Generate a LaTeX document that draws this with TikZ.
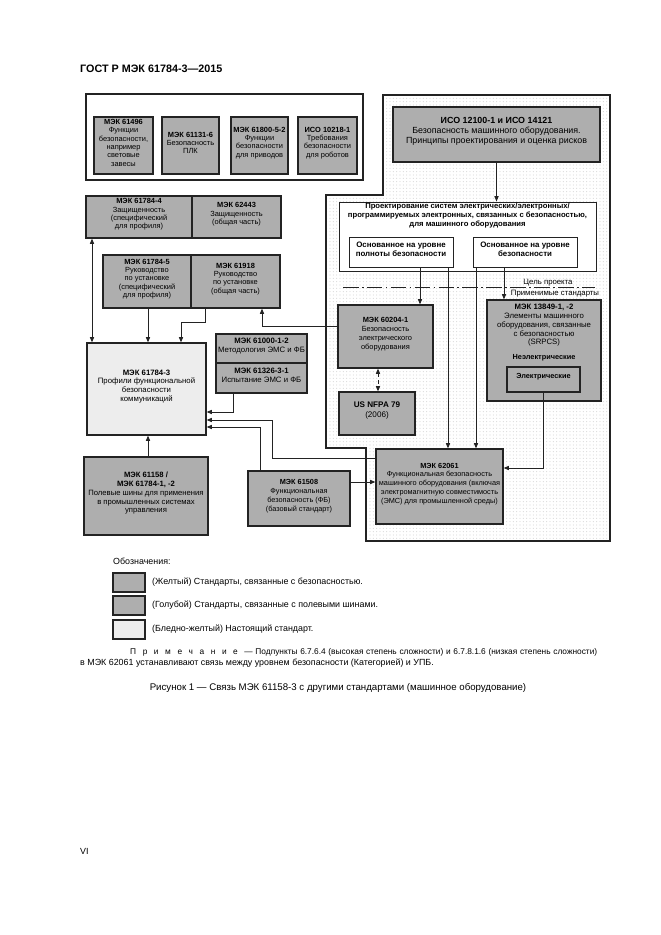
\documentclass[tikz,border=0pt]{standalone}
\usepackage{fontspec}
\setmainfont{Liberation Sans}
\usetikzlibrary{arrows.meta,fit,patterns}
\definecolor{boxgray}{RGB}{174,174,174}
\definecolor{lightfill}{RGB}{237,237,237}
\definecolor{linecol}{RGB}{35,35,35}
\newcommand\gapx{\hspace{4pt plus 6pt}}
\begin{document}
\begin{tikzpicture}[x=0.9pt,y=-0.9pt,
  gbox/.style={draw=linecol, line width=1.1pt, fill=boxgray, inner sep=0pt, align=center, font=\fontsize{6.7}{7.5}\selectfont},
  lbox/.style={gbox, fill=lightfill},
  wbox/.style={draw=linecol, line width=0.9pt, fill=white, inner sep=0pt, align=center, font=\bfseries\fontsize{7.1}{8.4}\selectfont},
  frame/.style={draw=linecol, line width=1.1pt, inner sep=0pt},
  txt/.style={inner sep=0pt, font=\fontsize{8}{9.5}\selectfont},
  arr/.style={draw=linecol, line width=0.8pt, -{Triangle[length=4.8pt,width=3.8pt]}},
  darr/.style={draw=linecol, line width=0.8pt, {Triangle[length=4.8pt,width=3.8pt]}-{Triangle[length=4.8pt,width=3.8pt]}},
  dashdotline/.style={draw=linecol, line width=0.8pt, dash pattern=on 14pt off 3pt on 1.5pt off 3pt}
]
\fill[white] (0,0) rectangle (661,935);
\useasboundingbox (0,0) rectangle (661,935);

% header
\node[anchor=base west, inner sep=0pt, font=\bfseries\fontsize{9.7}{11}\selectfont] (hdr) at (80,72) {ГОСТ Р МЭК 61784-3—2015};

% dotted region
\path[draw=linecol, line width=1.1pt, pattern=dots, pattern color=black!17]
  (383,95) -- (610,95) -- (610,541) -- (366,541) -- (366,448) -- (326,448) -- (326,195) -- (383,195) -- cycle;

% top-left frame with four boxes
\node[frame, fit={(86,94)(363,180)}] (tlf) {};
\node[gbox, fit={(94,117)(153,174)}] (b1) {\textbf{МЭК 61496}\\Функции\\безопасности,\\например\\световые\\завесы};
\node[gbox, fit={(162,117)(219,174)}] (b2) {\textbf{МЭК 61131-6}\\Безопасность\\ПЛК};
\node[gbox, fit={(231,117)(288,174)}] (b3) {\textbf{МЭК 61800-5-2}\\Функции\\безопасности\\для приводов};
\node[gbox, fit={(298,117)(357,174)}] (b4) {\textbf{ИСО 10218-1}\\Требования\\безопасности\\для роботов};

% ISO box
\node[gbox, font=\fontsize{8}{9}\selectfont, fit={(393,107)(600,162)}] (iso) {\textbf{ИСО 12100-1 и ИСО 14121}\\Безопасность машинного оборудования.\\Принципы проектирования и оценка рисков};

% design box
\node[wbox, fit={(339,202)(596,271)}] (design) {};
\node[inner sep=0pt, align=center, font=\bfseries\fontsize{6.9}{7.7}\selectfont] (dtitle) at (467.5,215.5) {Проектирование систем электрических/электронных/\\программируемых электронных, связанных с безопасностью,\\для машинного оборудования};
\node[wbox, fit={(349,237)(453,267)}] (s1) {Основанное на уровне\\полноты безопасности};
\node[wbox, fit={(473,237)(577,267)}] (s2) {Основанное на уровне\\безопасности};

% dash-dot boundary
\coordinate (dl) at (343,287);
\coordinate (dr) at (595,287);
\draw[dashdotline] (dl) -- (dr);
\node[inner sep=0pt, font=\fontsize{7}{8}\selectfont] (goal) at (548,282.5) {Цель проекта};
\node[inner sep=0pt, font=\fontsize{7}{8}\selectfont] (appl) at (555,293.5) {Применимые стандарты};

% left column
\node[gbox, fit={(86,196)(192,238)}] (d1) {\textbf{МЭК 61784-4}\\Защищенность\\(специфический\\для профиля)};
\node[gbox, fit={(192,196)(281,238)}] (d2) {\textbf{МЭК 62443}\\Защищенность\\(общая часть)};
\node[gbox, fit={(103,255)(191,308)}] (e1) {\textbf{МЭК 61784-5}\\Руководство\\по установке\\(специфический\\для профиля)};
\node[gbox, fit={(191,255)(280,308)}] (e2) {\textbf{МЭК 61918}\\Руководство\\по установке\\(общая часть)};

\node[lbox, font=\fontsize{7}{7.8}\selectfont, fit={(87,343)(206,435)}] (m) {\textbf{МЭК 61784-3}\\Профили функциональной\\безопасности\\коммуникаций};
\node[gbox, font=\fontsize{7}{8}\selectfont, fit={(216,334)(307,363)}] (f1) {\textbf{МЭК 61000-1-2}\\Методология ЭМС и ФБ};
\node[gbox, font=\fontsize{7}{8}\selectfont, fit={(216,363)(307,393)}] (f2) {\textbf{МЭК 61326-3-1}\\Испытание ЭМС и ФБ};

\node[gbox, font=\fontsize{6.9}{8}\selectfont, fit={(84,457)(208,535)}] (g) {\textbf{МЭК 61158 /}\\\textbf{МЭК 61784-1, -2}\\Полевые шины для применения\\в промышленных системах\\управления};
\node[gbox, font=\fontsize{6.6}{8}\selectfont, fit={(248,471)(350,526)}] (h) {\textbf{МЭК 61508}\\Функциональная\\безопасность (ФБ)\\(базовый стандарт)};

% right region boxes
\node[gbox, font=\fontsize{6.7}{8}\selectfont, fit={(338,305)(433,368)}] (p) {\textbf{МЭК 60204-1}\\Безопасность\\электрического\\оборудования};
\node[gbox, font=\fontsize{7.3}{9}\selectfont, fit={(339,392)(415,435)}] (q) {\textbf{US NFPA 79}\\(2006)};
\node[gbox, fit={(487,300)(601,401)}] (r) {};
\node[inner sep=0pt, align=center, font=\fontsize{7}{7.9}\selectfont] (rtitle) at (544,325.5) {\textbf{МЭК 13849-1, -2}\\Элементы машинного\\оборудования, связанные\\с безопасностью\\(SRPCS)};
\node[inner sep=0pt, font=\bfseries\fontsize{6.6}{7.6}\selectfont] (rnon) at (544,358) {Неэлектрические};
\node[gbox, font=\bfseries\fontsize{6.6}{7.6}\selectfont, fit={(507,367)(580,392)}] (r2) {Электрические};
\node[gbox, font=\fontsize{6.6}{7.9}\selectfont, fit={(376,449)(503,524)}] (t) {\textbf{МЭК 62061}\\Функциональная безопасность\\машинного оборудования (включая\\электромагнитную совместимость\\(ЭМС) для промышленной среды)};

% helper coordinates for connector routes
\coordinate (xa) at (420,0);
\coordinate (xb) at (448,0);
\coordinate (xc) at (476,0);
\coordinate (xd) at (504,0);
\coordinate (xf) at (378,0);
\coordinate (xi) at (92,0);
\coordinate (xj) at (148,0);
\coordinate (ye) at (0,468);
\coordinate (yp) at (0,326);
\coordinate (xpe) at (262,0);
\coordinate (k1) at (205,322);
\coordinate (k2) at (181,322);
\coordinate (k3) at (233,412);
\coordinate (k4) at (272,458);
\coordinate (k5) at (272,420);
\coordinate (k6) at (260,427);
\coordinate (yh) at (0,482);

% connectors
\draw[arr] (iso.south) -- (iso.south |- design.north);
\draw[arr] (s1.south -| xa) -- (p.north -| xa);
\draw[arr] (s1.south -| xb) -- (t.north -| xb);
\draw[arr] (s2.south -| xc) -- (t.north -| xc);
\draw[arr] (s2.south -| xd) -- (r.north -| xd);
\draw[arr] (r2.south) |- (t.east |- ye);
\draw[darr, dashed] (p.south -| xf) -- (q.north -| xf);
\draw[arr] (p.west |- yp) -| (e2.south -| xpe);
\draw[darr] (d1.south -| xi) -- (m.north -| xi);
\draw[arr] (e1.south -| xj) -- (m.north -| xj);
\draw[arr] (e2.south -| k1) -- (k1) -- (k2) -- (m.north -| k2);
\draw[arr] (f2.south -| k3) -- (k3) -- (m.east |- k3);
\draw[arr] (t.west |- k4) -- (k4) -- (k5) -- (m.east |- k5);
\draw[arr] (h.north -| k6) -- (k6) -- (m.east |- k6);
\draw[arr] (g.north -| xj) -- (m.south -| xj);
\draw[arr] (h.east |- yh) -- (t.west |- yh);

% legend
\node[txt, anchor=west] (legt) at (113,561) {Обозначения:};
\node[gbox, fit={(113,573)(145,592)}] (lg1) {};
\node[gbox, fit={(113,596)(145,615)}] (lg2) {};
\node[lbox, fit={(113,620)(145,639)}] (lg3) {};
\node[txt, anchor=west] (lt1) at (152,582.5) {(Желтый) Стандарты, связанные с безопасностью.};
\node[txt, anchor=west] (lt2) at (152,605.5) {(Голубой) Стандарты, связанные с полевыми шинами.};
\node[txt, anchor=west] (lt3) at (152,629.5) {(Бледно-желтый) Настоящий стандарт.};

% note
\node[txt, anchor=west, font=\fontsize{7.5}{9}\selectfont] (note1) at (130,652.5) {\hbox to 420.3pt{П\gapx р\gapx и\gapx м\gapx е\gapx ч\gapx а\gapx н\gapx и\gapx е\hspace{4pt plus 6pt}— Подпункты 6.7.6.4 (высокая степень сложности) и 6.7.8.1.6 (низкая степень сложности)}};
\node[txt, anchor=west] (note2) at (80,663.5) {в МЭК 62061 устанавливают связь между уровнем безопасности (Категорией) и УПБ.};

% caption
\node[txt, font=\fontsize{8.7}{10}\selectfont] (cap) at (338,688) {Рисунок 1 — Связь МЭК 61158-3 с другими стандартами (машинное оборудование)};

% page number
\node[txt, anchor=west, font=\fontsize{8}{9}\selectfont] (pg) at (80,851) {VI};
\end{tikzpicture}
\end{document}
